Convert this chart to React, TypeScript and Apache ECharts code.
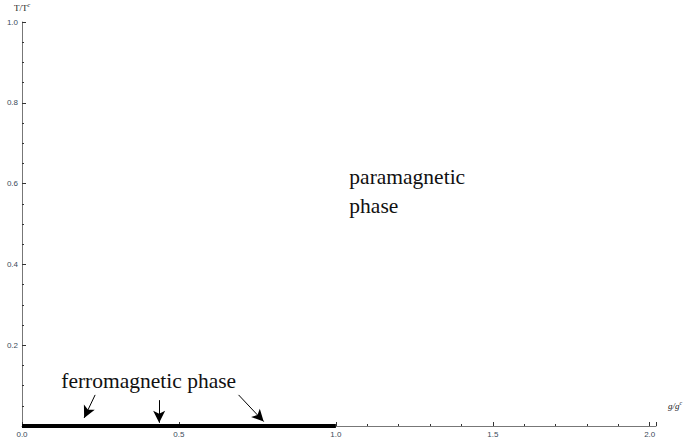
import React, { useEffect, useRef } from "react";
import * as echarts from "echarts";

const xTicks = [0, 0.5, 1.0, 1.5, 2.0];
const yTicks = [0.2, 0.4, 0.6, 0.8, 1.0];
const ferroLineX = [0, 1.0];
const ferroLineY = [0, 0];
// arrows: [startX, startY, endX, endY] in data coordinates
const arrows = [
  [0.233, 0.077, 0.198, 0.02],
  [0.437, 0.064, 0.437, 0.008],
  [0.69, 0.077, 0.77, 0.011],
];
const phaseLabels = [
  { text: "paramagnetic\nphase", x: 1.043, y: 0.58 },
  { text: "ferromagnetic phase", x: 0.125, y: 0.112 },
];

const SERIF = "'Liberation Serif', 'Times New Roman', serif";

export default function App() {
  const ref = useRef<HTMLDivElement>(null);
  useEffect(() => {
    const chart = echarts.init(ref.current!, null, { renderer: "svg" });
    const axisLabelStyle = {
      fontFamily: "Liberation Sans",
      fontSize: 8,
      color: "#3a4a5a",
    };
    chart.setOption({
      animation: false,
      backgroundColor: "#ffffff",
      grid: { left: 22, right: 31, top: 22, bottom: 15, containLabel: false },
      xAxis: {
        type: "value",
        min: 0,
        max: 2.02,
        interval: 0.5,
        name: "g/g{s|c}",
        nameLocation: "end",
        nameGap: 12,
        nameTextStyle: {
          fontFamily: SERIF,
          fontStyle: "italic",
          fontSize: 9,
          color: "#222",
          verticalAlign: "bottom",
          padding: [0, 0, 14, 0],
          rich: { s: { fontFamily: SERIF, fontSize: 6, verticalAlign: "top", padding: [0, 0, 6, 0], fontStyle: "italic" } },
        },
        axisLine: { lineStyle: { color: "#777", width: 1 } },
        axisTick: { inside: true, length: 4, lineStyle: { color: "#333" } },
        minorTick: { show: true, splitNumber: 5, length: 2, lineStyle: { color: "#333" } },
        splitLine: { show: false },
        axisLabel: {
          ...axisLabelStyle,
          margin: 4,
          formatter: (v: number) => (xTicks.includes(+v.toFixed(2)) ? v.toFixed(1) : ""),
        },
      },
      yAxis: {
        type: "value",
        min: 0,
        max: 1.0,
        interval: 0.2,
        name: "T/T{s|c}",
        nameLocation: "end",
        nameGap: 8,
        nameTextStyle: {
          fontFamily: SERIF,
          fontSize: 9,
          color: "#222",
          align: "center",
          rich: { s: { fontFamily: SERIF, fontSize: 6, verticalAlign: "top", padding: [0, 0, 6, 0], fontStyle: "italic" } },
        },
        axisLine: { lineStyle: { color: "#777", width: 1 } },
        axisTick: { inside: true, length: 4, lineStyle: { color: "#333" } },
        minorTick: { show: true, splitNumber: 4, length: 2, lineStyle: { color: "#333" } },
        splitLine: { show: false },
        axisLabel: {
          ...axisLabelStyle,
          margin: 4,
          formatter: (v: number) => (yTicks.includes(+v.toFixed(2)) ? v.toFixed(1) : ""),
        },
      },
      series: [
        {
          type: "line",
          data: ferroLineX.map((x, i) => [x, ferroLineY[i]]),
          symbol: "none",
          lineStyle: { color: "#000", width: 4 },
          z: 5,
          silent: true,
          markLine: {
            silent: true,
            symbol: ["none", "arrow"],
            symbolSize: [9, 12],
            lineStyle: { color: "#000", width: 1, type: "solid" },
            label: { show: false },
            data: arrows.map((a) => [
              { coord: [a[0], a[1]] },
              { coord: [a[2], a[3]] },
            ]),
          },
          markPoint: {
            silent: true,
            symbol: "circle",
            symbolSize: 0,
            label: {
              show: true,
              formatter: (p: any) => p.name,
              position: "right",
              distance: 0,
              fontFamily: SERIF,
              fontSize: 21.5,
              lineHeight: 29,
              color: "#111",
              align: "left",
            },
            data: phaseLabels.map((p) => ({
              name: p.text,
              coord: [p.x, p.y],
            })),
          },
        },
      ],
    });
    return () => chart.dispose();
  }, []);
  return <div ref={ref} style={{ width: 687, height: 441, position: "absolute", left: 0, top: 0 }} />;
}
